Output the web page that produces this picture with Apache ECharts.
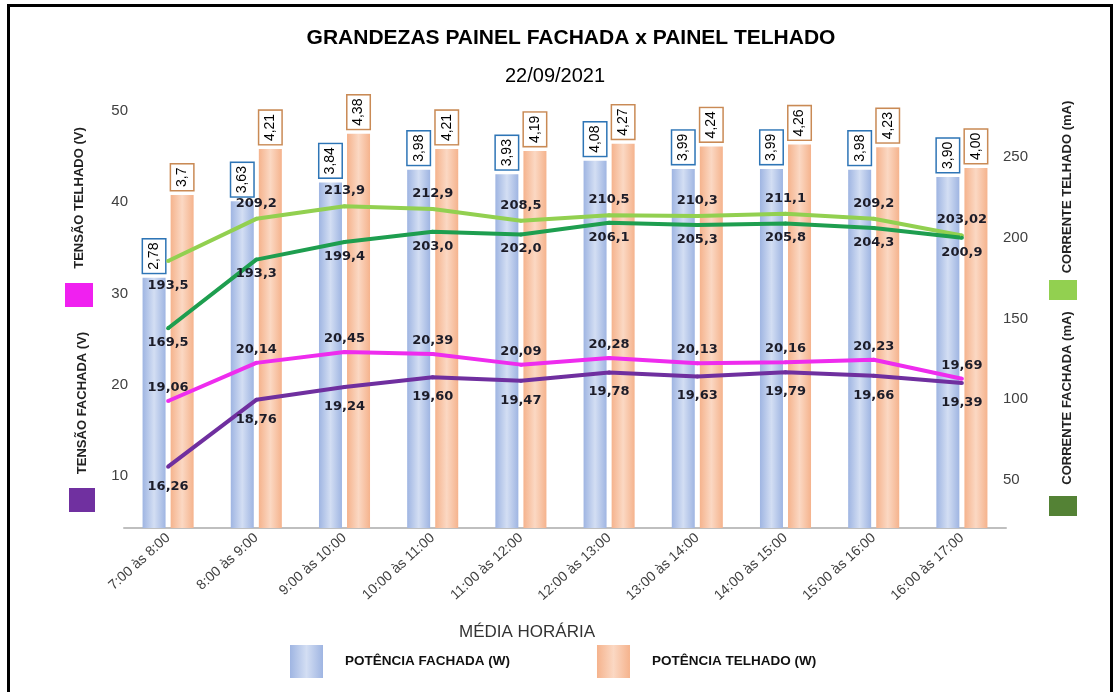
<!DOCTYPE html>
<html>
<head>
<meta charset="utf-8">
<script src="https://cdn.jsdelivr.net/npm/echarts@6/dist/echarts.min.js"></script>
<style>
  html, body { margin: 0; padding: 0; background: #fff; }
  #main { width: 1117px; height: 692px; }
</style>
</head>
<body>
<div id="main"></div>
<script>
// dados (strings para manter as casas decimais dos rótulos)
var horarios = ['7:00 às 8:00', '8:00 às 9:00', '9:00 às 10:00', '10:00 às 11:00', '11:00 às 12:00',
  '12:00 às 13:00', '13:00 às 14:00', '14:00 às 15:00', '15:00 às 16:00', '16:00 às 17:00'];
var potenciaFachada = ['2.78', '3.63', '3.84', '3.98', '3.93', '4.08', '3.99', '3.99', '3.98', '3.90'];
var potenciaTelhado = ['3.7', '4.21', '4.38', '4.21', '4.19', '4.27', '4.24', '4.26', '4.23', '4.00'];
var tensaoTelhado = ['19.06', '20.14', '20.45', '20.39', '20.09', '20.28', '20.13', '20.16', '20.23', '19.69'];
var tensaoFachada = ['16.26', '18.76', '19.24', '19.60', '19.47', '19.78', '19.63', '19.79', '19.66', '19.39'];
var correnteTelhado = ['193.5', '209.2', '213.9', '212.9', '208.5', '210.5', '210.3', '211.1', '209.2', '203.02'];
var correnteFachada = ['169.5', '193.3', '199.4', '203.0', '202.0', '206.1', '205.3', '205.8', '204.3', '200.9'];
var ticksTensao = [10, 20, 30, 40, 50];
var ticksCorrente = [50, 100, 150, 200, 250];

function rotulo(arr) {
  return function (p) { return arr[p.dataIndex].replace('.', ','); };
}
function grad(borda, meio) {
  return new echarts.graphic.LinearGradient(0, 0, 1, 0, [
    { offset: 0, color: borda }, { offset: 0.5, color: meio }, { offset: 1, color: borda }
  ]);
}

var chart = echarts.init(document.getElementById('main'));

var lblBarra = {
  show: true, position: 'top', rotate: 90, align: 'left', verticalAlign: 'middle',
  distance: 5, fontSize: 14, fontFamily: 'Liberation Sans', color: '#000',
  backgroundColor: '#fff', borderWidth: 1.5, padding: [4, 3]
};
var lblLinha = {
  show: true, fontSize: 13, fontWeight: 'bold', fontFamily: 'DejaVu Sans', color: '#1c1c28'
};

var option = {
  animation: false,
  backgroundColor: '#fff',
  grid: [
    { left: 124, right: 111, top: 88, bottom: 164 },
    { left: 136, width: 20, top: 111, bottom: 216 },
    { right: 122, width: 20, top: 157, bottom: 212 }
  ],
  xAxis: [
    {
      type: 'category', gridIndex: 0, data: horarios,
      axisLine: { lineStyle: { color: '#bfbfbf', width: 2 } },
      axisTick: { show: false },
      axisLabel: { interval: 0, rotate: 42, fontSize: 14, color: '#404040', fontFamily: 'Liberation Sans', margin: 8 }
    },
    { type: 'value', gridIndex: 1, show: false, min: 0, max: 1 },
    { type: 'value', gridIndex: 2, show: false, min: 0, max: 1 }
  ],
  yAxis: [
    { type: 'value', gridIndex: 0, show: false, min: 0, max: 4.889 },
    {
      type: 'value', gridIndex: 1, position: 'left',
      min: ticksTensao[0], max: ticksTensao[ticksTensao.length - 1], interval: ticksTensao[1] - ticksTensao[0],
      axisLine: { show: false }, axisTick: { show: false }, splitLine: { show: false },
      axisLabel: { fontSize: 15, color: '#404040', fontFamily: 'Liberation Sans', margin: 8 }
    },
    {
      type: 'value', gridIndex: 2, position: 'right',
      min: ticksCorrente[0], max: ticksCorrente[ticksCorrente.length - 1], interval: ticksCorrente[1] - ticksCorrente[0],
      axisLine: { show: false }, axisTick: { show: false }, splitLine: { show: false },
      axisLabel: { fontSize: 15, color: '#404040', fontFamily: 'Liberation Sans', margin: 8 }
    },
    { type: 'value', gridIndex: 0, show: false, min: 15.46, max: 27.93 },
    { type: 'value', gridIndex: 0, show: false, min: 13.97, max: 30.41 },
    { type: 'value', gridIndex: 0, show: false, min: 94.0, max: 257.95 },
    { type: 'value', gridIndex: 0, show: false, min: 100.24, max: 252.81 }
  ],
  legend: {
    data: ['POTÊNCIA FACHADA (W)', 'POTÊNCIA TELHADO (W)'],
    left: 285, bottom: 9, icon: 'rect', itemWidth: 33, itemHeight: 33, itemGap: 87,
    textStyle: { fontSize: 13.5, fontWeight: 'bold', fontFamily: 'Liberation Sans', color: '#111', padding: [0, 0, 0, 17] }
  },
  series: [
    {
      name: 'POTÊNCIA FACHADA (W)', type: 'bar', xAxisIndex: 0, yAxisIndex: 0,
      barWidth: 23, barGap: '22%',
      data: potenciaFachada.map(Number),
      itemStyle: { color: grad('#9fb5e2', '#d3def3') },
      label: Object.assign({}, lblBarra, { borderColor: '#2e75b6', formatter: rotulo(potenciaFachada) })
    },
    {
      name: 'POTÊNCIA TELHADO (W)', type: 'bar', xAxisIndex: 0, yAxisIndex: 0,
      barWidth: 23, barGap: '22%',
      data: potenciaTelhado.map(Number),
      itemStyle: { color: grad('#f5b38d', '#fbd8c3') },
      label: Object.assign({}, lblBarra, { borderColor: '#c98a55', formatter: rotulo(potenciaTelhado) })
    },
    {
      name: 'TENSÃO TELHADO (V)', type: 'line', xAxisIndex: 0, yAxisIndex: 3, z: 3,
      data: tensaoTelhado.map(Number), symbol: 'circle', symbolSize: 4,
      lineStyle: { width: 4, color: '#ee2cee' }, itemStyle: { color: '#ee2cee' },
      label: Object.assign({}, lblLinha, { position: 'top', distance: 5, formatter: rotulo(tensaoTelhado) })
    },
    {
      name: 'TENSÃO FACHADA (V)', type: 'line', xAxisIndex: 0, yAxisIndex: 4, z: 3,
      data: tensaoFachada.map(Number), symbol: 'circle', symbolSize: 4,
      lineStyle: { width: 4, color: '#6f2f9f' }, itemStyle: { color: '#6f2f9f' },
      label: Object.assign({}, lblLinha, { position: 'bottom', distance: 11, formatter: rotulo(tensaoFachada) })
    },
    {
      name: 'CORRENTE TELHADO (mA)', type: 'line', xAxisIndex: 0, yAxisIndex: 5, z: 3,
      data: correnteTelhado.map(function (v, i) {
        return i === 0 ? { value: +v, label: { position: 'bottom', distance: 16 } } : +v;
      }),
      symbol: 'circle', symbolSize: 4,
      lineStyle: { width: 4, color: '#92d050' }, itemStyle: { color: '#92d050' },
      label: Object.assign({}, lblLinha, { position: 'top', distance: 7, formatter: rotulo(correnteTelhado) })
    },
    {
      name: 'CORRENTE FACHADA (mA)', type: 'line', xAxisIndex: 0, yAxisIndex: 6, z: 3,
      data: correnteFachada.map(Number), symbol: 'circle', symbolSize: 4,
      lineStyle: { width: 4, color: '#1e9e4f' }, itemStyle: { color: '#1e9e4f' },
      label: Object.assign({}, lblLinha, { position: 'bottom', distance: 6, formatter: rotulo(correnteFachada) })
    }
  ],
  graphic: [
    { type: 'rect', shape: { x: 8.5, y: 5.5, width: 1103, height: 700 }, style: { fill: 'none', stroke: '#000', lineWidth: 3 }, silent: true },
    { type: 'text', x: 571, y: 38, style: { text: 'GRANDEZAS PAINEL FACHADA x PAINEL TELHADO', font: 'bold 21px "Liberation Sans"', fill: '#000', align: 'center', verticalAlign: 'middle' } },
    { type: 'text', x: 555, y: 76, style: { text: '22/09/2021', font: '20px "Liberation Sans"', fill: '#000', align: 'center', verticalAlign: 'middle' } },
    { type: 'text', x: 527, y: 632, style: { text: 'MÉDIA HORÁRIA', font: '17px "Liberation Sans"', fill: '#333', align: 'center', verticalAlign: 'middle' } },
    { type: 'text', x: 79, y: 198, rotation: Math.PI / 2, style: { text: 'TENSÃO TELHADO (V)', font: 'bold 13px "Liberation Sans"', fill: '#222', align: 'center', verticalAlign: 'middle' } },
    { type: 'rect', shape: { x: 65, y: 283, width: 28, height: 24 }, style: { fill: '#f020f0' } },
    { type: 'text', x: 82, y: 403, rotation: Math.PI / 2, style: { text: 'TENSÃO FACHADA (V)', font: 'bold 13px "Liberation Sans"', fill: '#222', align: 'center', verticalAlign: 'middle' } },
    { type: 'rect', shape: { x: 69, y: 488, width: 26, height: 24 }, style: { fill: '#7030a0' } },
    { type: 'text', x: 1067, y: 187, rotation: Math.PI / 2, style: { text: 'CORRENTE TELHADO (mA)', font: 'bold 13px "Liberation Sans"', fill: '#222', align: 'center', verticalAlign: 'middle' } },
    { type: 'rect', shape: { x: 1049, y: 280, width: 28, height: 20 }, style: { fill: '#92d050' } },
    { type: 'text', x: 1067, y: 398, rotation: Math.PI / 2, style: { text: 'CORRENTE FACHADA (mA)', font: 'bold 13px "Liberation Sans"', fill: '#222', align: 'center', verticalAlign: 'middle' } },
    { type: 'rect', shape: { x: 1049, y: 496, width: 28, height: 20 }, style: { fill: '#548235' } }
  ]
};
chart.setOption(option);
</script>
</body>
</html>
